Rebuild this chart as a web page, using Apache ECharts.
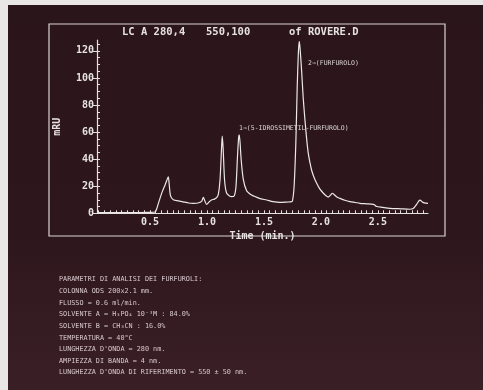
<!DOCTYPE html>
<html>
<head>
<meta charset="utf-8">
<script src="https://cdn.jsdelivr.net/npm/echarts@6/dist/echarts.min.js"></script>
<style>
  html, body { margin: 0; padding: 0; background: #e9e6e6; }
  #chart { width: 483px; height: 390px; }
</style>
</head>
<body>
<div id="chart"></div>
<script>
// chromatogram trace
const times = [0.035, 0.1, 0.2, 0.3, 0.4, 0.5, 0.545, 0.56, 0.58, 0.608, 0.635, 0.655, 0.661, 0.668, 0.68, 0.705,
  0.75, 0.79, 0.84, 0.88, 0.93, 0.955, 0.968, 0.98, 0.997, 1.02, 1.04, 1.065, 1.085, 1.1, 1.115, 1.128, 1.134,
  1.142, 1.155, 1.172, 1.195, 1.216, 1.24, 1.255, 1.268, 1.278, 1.283, 1.29, 1.3, 1.319, 1.348, 1.38, 1.407,
  1.46, 1.524, 1.58, 1.64, 1.7, 1.735, 1.75, 1.765, 1.78, 1.792, 1.802, 1.81, 1.817, 1.831, 1.845, 1.86, 1.875,
  1.889, 1.905, 1.918, 1.94, 1.962, 1.99, 2.02, 2.045, 2.064, 2.085, 2.1, 2.12, 2.14, 2.167, 2.21, 2.254, 2.3,
  2.342, 2.4, 2.459, 2.475, 2.488, 2.54, 2.605, 2.7, 2.78, 2.81, 2.84, 2.86, 2.87, 2.885, 2.9, 2.92, 2.94];
const mau = [0.5, 0.5, 0.5, 0.6, 0.6, 0.7, 1.0, 3.5, 9, 16, 21.5, 26, 27, 22, 13, 10,
  9.2, 8.5, 7.6, 7.4, 7.8, 9, 11.8, 9.5, 6.6, 8.5, 9.8, 10.5, 11.5, 14, 25, 48, 57,
  48, 24, 15, 13, 12.3, 13, 20, 42, 56, 58, 53, 40, 25, 16.6, 14, 12.9,
  11, 9.8, 8.6, 8, 8.3, 8.5, 9, 20, 52, 93, 118, 127, 122, 105, 85, 69, 55,
  44.5, 37, 32, 26.5, 22.4, 18, 15, 13, 12, 13.5, 14.8, 13.5, 12, 11, 9.6, 8.6, 8,
  7.4, 7, 6.6, 6, 5, 4.4, 3.7, 3.3, 3, 3.5, 6.6, 9.2, 9.8, 8.8, 7.9, 7.5, 7.4];

const xLabels = [0.5, 1.0, 1.5, 2.0, 2.5];
const yLabels = [0, 20, 40, 60, 80, 100, 120];

const titleParts = ['LC A 280,4', '550,100', 'of ROVERE.D'];
const peakNotes = ['1⇒(5-IDROSSIMETIL-FURFUROLO)', '2⇒(FURFUROLO)'];
const paramLines = [
  'PARAMETRI DI ANALISI DEI FURFUROLI:',
  'COLONNA ODS 200x2.1 mm.',
  'FLUSSO = 0.6 ml/min.',
  'SOLVENTE A = H₃PO₄ 10⁻³M : 84.0%',
  'SOLVENTE B = CH₃CN : 16.0%',
  'TEMPERATURA = 40°C',
  "LUNGHEZZA D'ONDA = 280 nm.",
  'AMPIEZZA DI BANDA = 4 nm.',
  "LUNGHEZZA D'ONDA DI RIFERIMENTO = 550 ± 50 nm."
];

const fg = '#e6e1e1';
const mono = '"DejaVu Sans Mono", monospace';

const xMinor = [];
for (let i = 1; i <= 58; i++) xMinor.push(+(i * 0.05).toFixed(2));
const yMinor = [];
for (let v = 5; v <= 125; v += 5) yMinor.push(v);

const chart = echarts.init(document.getElementById('chart'), null, { renderer: 'canvas' });

const graphics = [
  { type: 'rect', z: -10, shape: { x: 8, y: 5, width: 475, height: 385 },
    style: { fill: new echarts.graphic.LinearGradient(0, 0, 0, 1, [
      { offset: 0, color: '#2a151a' }, { offset: 0.6, color: '#2e171c' }, { offset: 1, color: '#3a1f26' }]) } },
  { type: 'rect', shape: { x: 49, y: 24, width: 396, height: 212 },
    style: { fill: 'none', stroke: '#d9d3d3', lineWidth: 1.2 } },
  { type: 'text', x: 122, y: 32, style: { text: titleParts[0], fill: fg, font: 'bold 10.5px ' + mono, textVerticalAlign: 'middle' } },
  { type: 'text', x: 206, y: 32, style: { text: titleParts[1], fill: fg, font: 'bold 10.5px ' + mono, textVerticalAlign: 'middle' } },
  { type: 'text', x: 289, y: 32, style: { text: titleParts[2], fill: fg, font: 'bold 10.5px ' + mono, textVerticalAlign: 'middle' } },
  { type: 'text', x: 239, y: 128.5, style: { text: peakNotes[0], fill: '#ddd6d6', font: '6.5px ' + mono, textVerticalAlign: 'middle' } },
  { type: 'text', x: 308, y: 63.5, style: { text: peakNotes[1], fill: '#ddd6d6', font: '6.5px ' + mono, textVerticalAlign: 'middle' } }
];
paramLines.forEach((t, i) => {
  graphics.push({ type: 'text', x: 59, y: 279.5 + i * 11.65,
    style: { text: t, fill: '#d8c9ce', font: '6.8px ' + mono, textVerticalAlign: 'middle' } });
});

chart.setOption({
  backgroundColor: 'transparent',
  animation: false,
  graphic: graphics,
  grid: { left: 97, top: 40, width: 331, bottom: 176.7, containLabel: false },
  xAxis: {
    type: 'value', min: 0.035, max: 2.94,
    name: 'Time (min.)', nameLocation: 'middle', nameGap: 18,
    nameTextStyle: { color: fg, fontFamily: mono, fontSize: 10, fontWeight: 'bold' },
    axisLine: { lineStyle: { color: fg, width: 1.2 } },
    axisTick: { inside: true, length: 3, customValues: xMinor, lineStyle: { color: fg } },
    axisLabel: { customValues: xLabels, color: fg, fontFamily: mono, fontSize: 10, fontWeight: 'bold', margin: 4,
      formatter: v => v.toFixed(1) },
    splitLine: { show: false }
  },
  yAxis: [{
    type: 'value', min: 0, max: 128,
    name: 'mRU', nameLocation: 'middle', nameGap: 35, nameRotate: 90,
    nameTextStyle: { color: fg, fontFamily: mono, fontSize: 10, fontWeight: 'bold' },
    axisLine: { show: true, lineStyle: { color: fg, width: 1.2 } },
    axisTick: { show: true, length: 4, customValues: yLabels, lineStyle: { color: fg } },
    axisLabel: { customValues: yLabels, color: fg, fontFamily: mono, fontSize: 10, fontWeight: 'bold', margin: 3 },
    splitLine: { show: false }
  }, {
    type: 'value', min: 0, max: 128, position: 'left',
    axisLine: { show: false },
    axisTick: { show: true, inside: true, length: 3, customValues: yMinor, lineStyle: { color: fg } },
    axisLabel: { show: false },
    splitLine: { show: false }
  }],
  series: [{
    type: 'line',
    yAxisIndex: 0,
    data: times.map((t, i) => [t, mau[i]]),
    showSymbol: false,
    smooth: 0.25,
    lineStyle: { color: '#ece8e6', width: 1.2 }
  }]
});
</script>
</body>
</html>
